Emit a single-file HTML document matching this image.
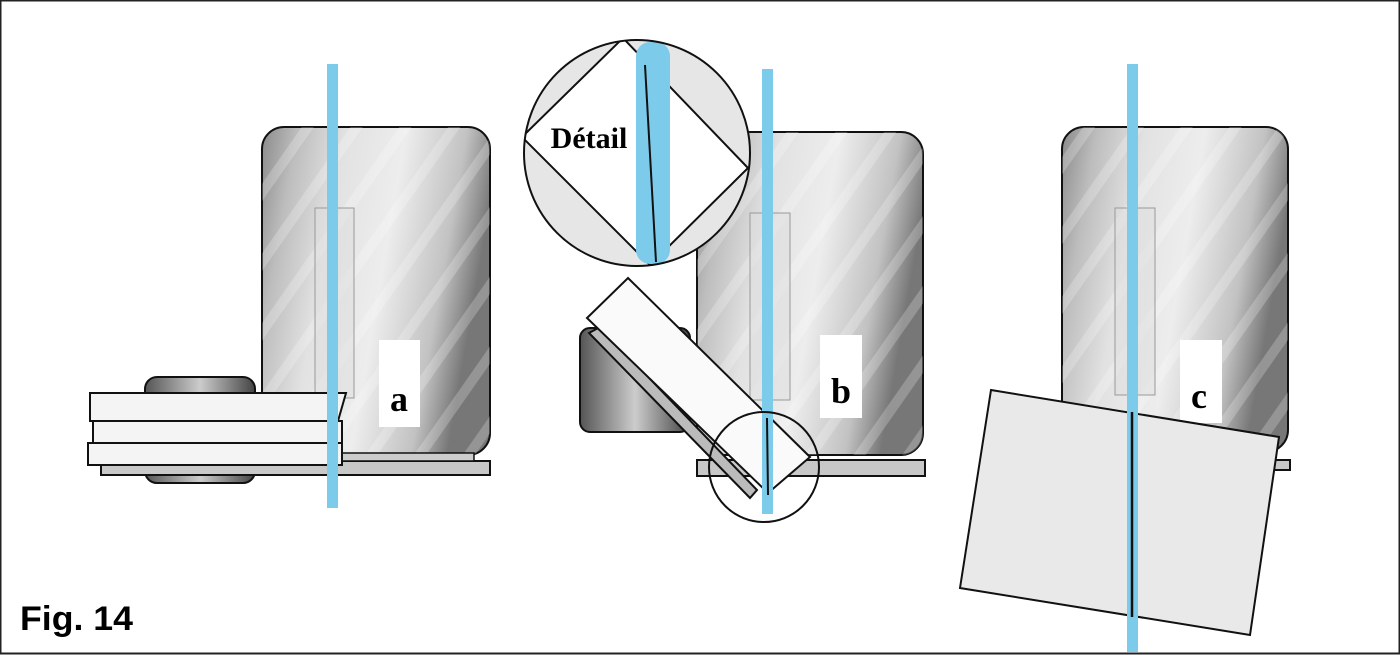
<!DOCTYPE html>
<html><head><meta charset="utf-8"><style>
html,body{margin:0;padding:0;background:#fff;}
svg{display:block;}
</style></head><body>
<svg width="1400" height="655" viewBox="0 0 1400 655" xmlns="http://www.w3.org/2000/svg">
<defs>
<linearGradient id="g" x1="0" y1="0" x2="1" y2="0.25">
<stop offset="0" stop-color="#8a8a8a"/><stop offset="0.15" stop-color="#bdbdbd"/><stop offset="0.35" stop-color="#e2e2e2"/>
<stop offset="0.6" stop-color="#ededed"/><stop offset="0.85" stop-color="#c2c2c2"/><stop offset="1" stop-color="#777"/>
</linearGradient>
<pattern id="st" width="40" height="40" patternUnits="userSpaceOnUse" patternTransform="rotate(35)">
<rect width="40" height="40" fill="none"/><rect width="10" height="40" fill="#fff" opacity="0.22"/>
</pattern>
<linearGradient id="k" x1="0" y1="0" x2="1" y2="0">
<stop offset="0" stop-color="#555"/><stop offset="0.5" stop-color="#ccc"/><stop offset="1" stop-color="#444"/>
</linearGradient>
<clipPath id="dc"><circle cx="637" cy="153" r="113"/></clipPath>
</defs>
<rect x="0.5" y="0.5" width="1399" height="653" fill="#fff" stroke="#222" stroke-width="2"/>

<!-- Panel a -->
<rect x="145" y="377" width="110" height="106" rx="12" fill="url(#k)" stroke="#111" stroke-width="2"/>
<rect x="101" y="461" width="389" height="14" fill="#c8c8c8" stroke="#111" stroke-width="2"/>
<rect x="262" y="127" width="228" height="328" rx="22" fill="url(#g)" stroke="#111" stroke-width="2"/>
<rect x="262" y="127" width="228" height="328" rx="22" fill="url(#st)"/>
<rect x="270" y="453" width="204" height="8" fill="#ccc" stroke="#111" stroke-width="1.5"/>
<rect x="315" y="208" width="39" height="190" fill="#ddd" fill-opacity="0.5" stroke="#999"/>
<rect x="379" y="340" width="41" height="87" fill="#fff"/>
<text x="399" y="411" font-family="Liberation Serif,serif" font-weight="bold" font-size="36" text-anchor="middle">a</text>
<polygon points="90,393 346,393 338,421 90,421" fill="#f4f4f4" stroke="#111" stroke-width="2"/>
<rect x="93" y="421" width="249" height="22" fill="#f4f4f4" stroke="#111" stroke-width="2"/>
<rect x="88" y="443" width="254" height="22" fill="#f4f4f4" stroke="#111" stroke-width="2"/>
<rect x="327" y="64" width="11" height="444" fill="#7dcbeb"/>

<!-- Panel b -->
<rect x="580" y="328" width="110" height="104" rx="10" fill="url(#k)" stroke="#111" stroke-width="2"/>
<rect x="697" y="460" width="228" height="16" fill="#c8c8c8" stroke="#111" stroke-width="2"/>
<rect x="697" y="132" width="226" height="323" rx="22" fill="url(#g)" stroke="#111" stroke-width="2"/>
<rect x="697" y="132" width="226" height="323" rx="22" fill="url(#st)"/>
<rect x="750" y="213" width="40" height="187" fill="#ddd" fill-opacity="0.5" stroke="#999"/>
<rect x="820" y="335" width="42" height="83" fill="#fff"/>
<text x="841" y="403" font-family="Liberation Serif,serif" font-weight="bold" font-size="36" text-anchor="middle">b</text>
<polygon points="589,333 600,327 757,490 750,498" fill="#bbb" stroke="#111" stroke-width="2"/>
<polygon points="628,278 810,457 768,493 587,318" fill="#fafafa" stroke="#111" stroke-width="2"/>
<rect x="762" y="69" width="11" height="445" fill="#7dcbeb"/>
<line x1="767" y1="418" x2="768" y2="495" stroke="#111" stroke-width="2"/>
<circle cx="764" cy="467" r="55" fill="none" stroke="#111" stroke-width="2"/>
<!-- Detail -->
<g clip-path="url(#dc)">
<rect x="520" y="38" width="240" height="232" fill="#e6e6e6"/>
<polygon points="522,137 623,38 748,168 650,265" fill="#fff" stroke="#111" stroke-width="2"/>
<rect x="636" y="42" width="34" height="222" rx="14" fill="#7dcbeb"/>
<line x1="645" y1="65" x2="656" y2="262" stroke="#111" stroke-width="2"/>
</g>
<circle cx="637" cy="153" r="113" fill="none" stroke="#111" stroke-width="2"/>
<text x="589" y="148" font-family="Liberation Serif,serif" font-weight="bold" font-size="30" text-anchor="middle">Détail</text>

<!-- Panel c -->
<rect x="1062" y="460" width="228" height="10" fill="#c8c8c8" stroke="#111" stroke-width="2"/>
<rect x="1062" y="127" width="226" height="325" rx="22" fill="url(#g)" stroke="#111" stroke-width="2"/>
<rect x="1062" y="127" width="226" height="325" rx="22" fill="url(#st)"/>
<rect x="1115" y="208" width="40" height="187" fill="#ddd" fill-opacity="0.5" stroke="#999"/>
<rect x="1180" y="340" width="42" height="83" fill="#fff"/>
<text x="1199" y="408" font-family="Liberation Serif,serif" font-weight="bold" font-size="36" text-anchor="middle">c</text>
<polygon points="991,390 1279,437 1250,635 960,588" fill="#e9e9e9" stroke="#111" stroke-width="2"/>
<rect x="1127" y="64" width="11" height="588" fill="#7dcbeb"/>
<line x1="1132" y1="412" x2="1132" y2="617" stroke="#111" stroke-width="2.5"/>

<text x="20" y="630" font-family="Liberation Sans,sans-serif" font-weight="bold" font-size="34" textLength="113" lengthAdjust="spacingAndGlyphs">Fig. 14</text>
</svg>
</body></html>
